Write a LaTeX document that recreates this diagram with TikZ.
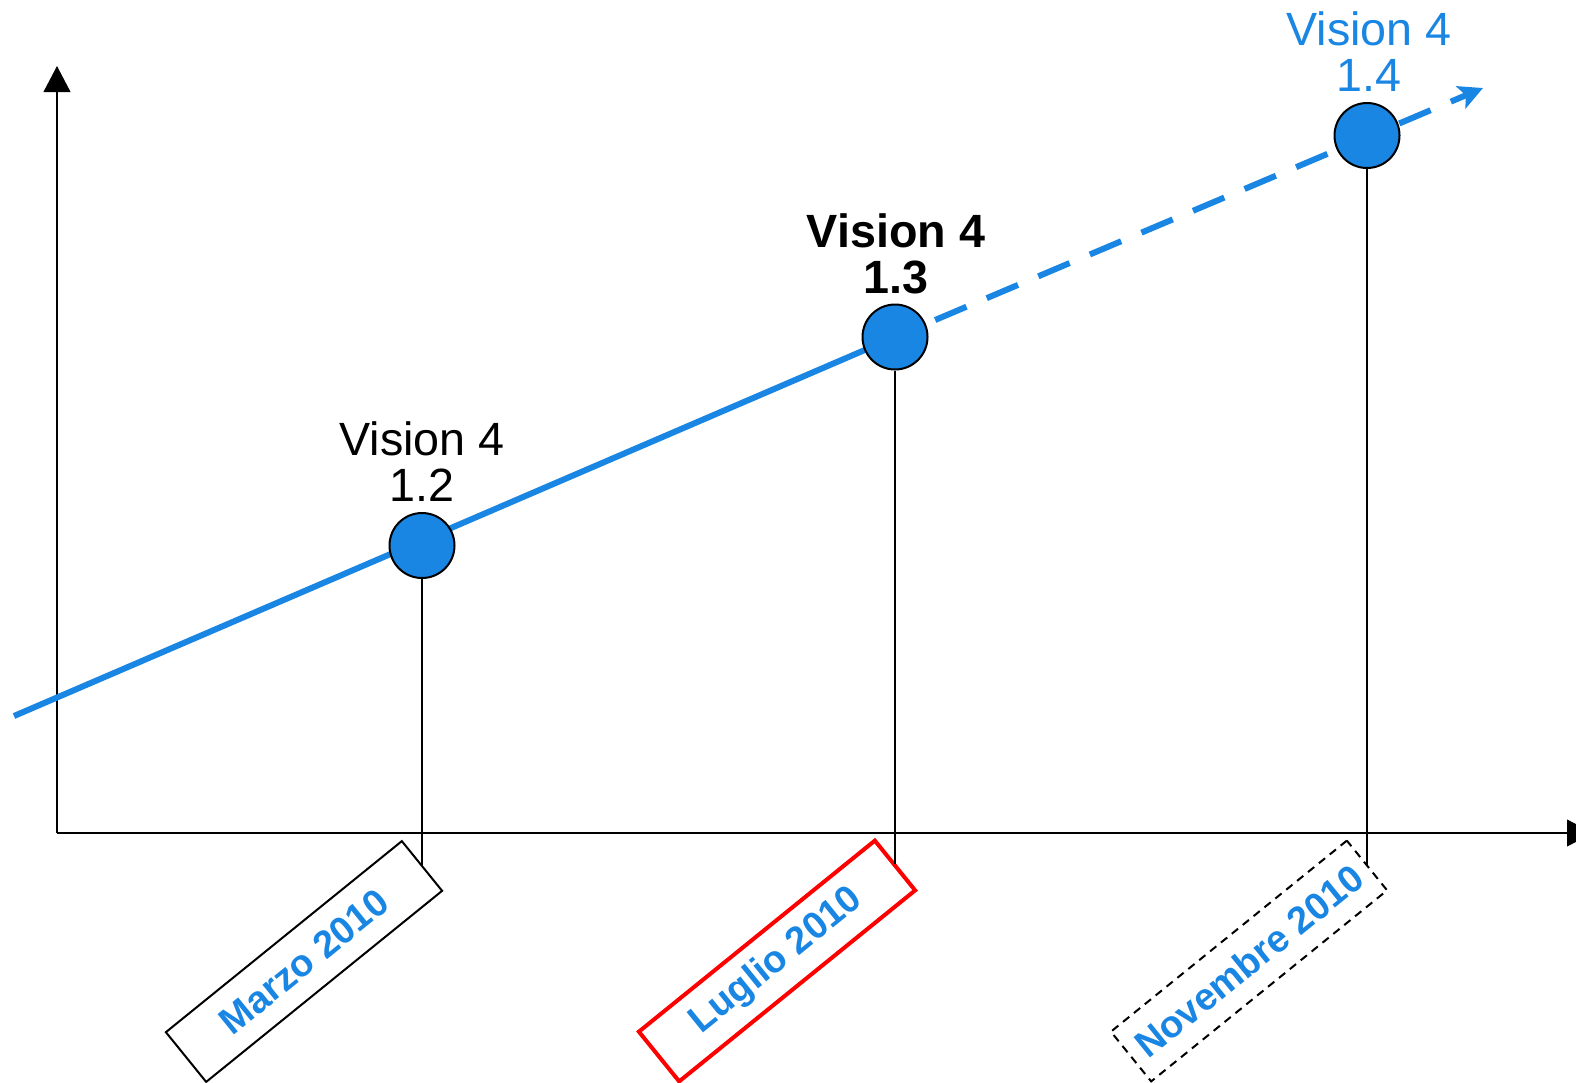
\documentclass[tikz,border=0pt]{standalone}
\usepackage{fontspec}
\setmainfont{Liberation Sans}
\usetikzlibrary{arrows.meta}
\definecolor{vblue}{HTML}{1A86E3}
\definecolor{vred}{HTML}{FF0000}
\begin{document}
\begin{tikzpicture}[x=0.75pt,y=-0.75pt,
  axis/.style={line width=1.5pt,-{Triangle[length=19.5pt,width=20pt]}},
  vline/.style={draw=vblue,line width=4.5pt},
  vdash/.style={vline,dash pattern=on 25.5pt off 16.5pt,dash phase=9.3pt,
    -{Stealth[length=18pt,width=18pt,inset=4pt]}},
  version/.style={circle,draw=black,line width=1.5pt,fill=vblue,minimum size=48.75pt,inner sep=0pt},
  vlabel/.style={align=center,inner sep=0pt,anchor=base,font=\fontsize{35}{34.5}\selectfont},
  datebox/.style={draw,line width=1.5pt,minimum width=227.7pt,minimum height=48pt,inner sep=0pt,
    rotate=39,text=vblue,font=\bfseries\fontsize{28.5}{30}\selectfont},
  drop/.style={line width=1.5pt}]
\useasboundingbox (0,0) rectangle (1576,1082);
% axes
\coordinate (o) at (57,833);
\coordinate (ytip) at (57,66);
\coordinate (xtip) at (1593,833);
\draw[axis] (o) -- (ytip);
\draw[axis] (o) -- (xtip);
% trend line
\coordinate (s) at (14,716);
\coordinate (p1) at (422,545.5);
\coordinate (p2) at (895,337);
\coordinate (p3) at (1367,135.5);
\coordinate (e) at (1483,88);
\draw[vline] (s) -- (p2);
\draw[vdash] (p2) -- (e);
% date boxes
\node[datebox] (b1) at (304,961.5) {Marzo 2010};
\node[datebox,draw=vred,line width=3pt] (b2) at (777,961) {Luglio 2010};
\node[datebox,dash pattern=on 6pt off 4.5pt] (b3) at (1249,961) {Novembre 2010};
% versions
\node[version] (c1) at (p1) {};
\node[version] (c2) at (p2) {};
\node[version] (c3) at (p3) {};
\draw[drop] (c1.south) -- (c1.south |- b1.east);
\draw[drop] (c2.south) -- (c2.south |- b2.east);
\draw[drop] (c3.south) -- (c3.south |- b3.east);
% labels (base = baseline of the last line)
\node[vlabel] (l1) at (422,501) {Vision 4\\1.2};
\node[vlabel,font=\bfseries\fontsize{35}{34.5}\selectfont] (l2) at (896,293) {Vision 4\\1.3};
\node[vlabel,text=vblue] (l3) at (1369,91.7) {Vision 4\\1.4};
\end{tikzpicture}
\end{document}
